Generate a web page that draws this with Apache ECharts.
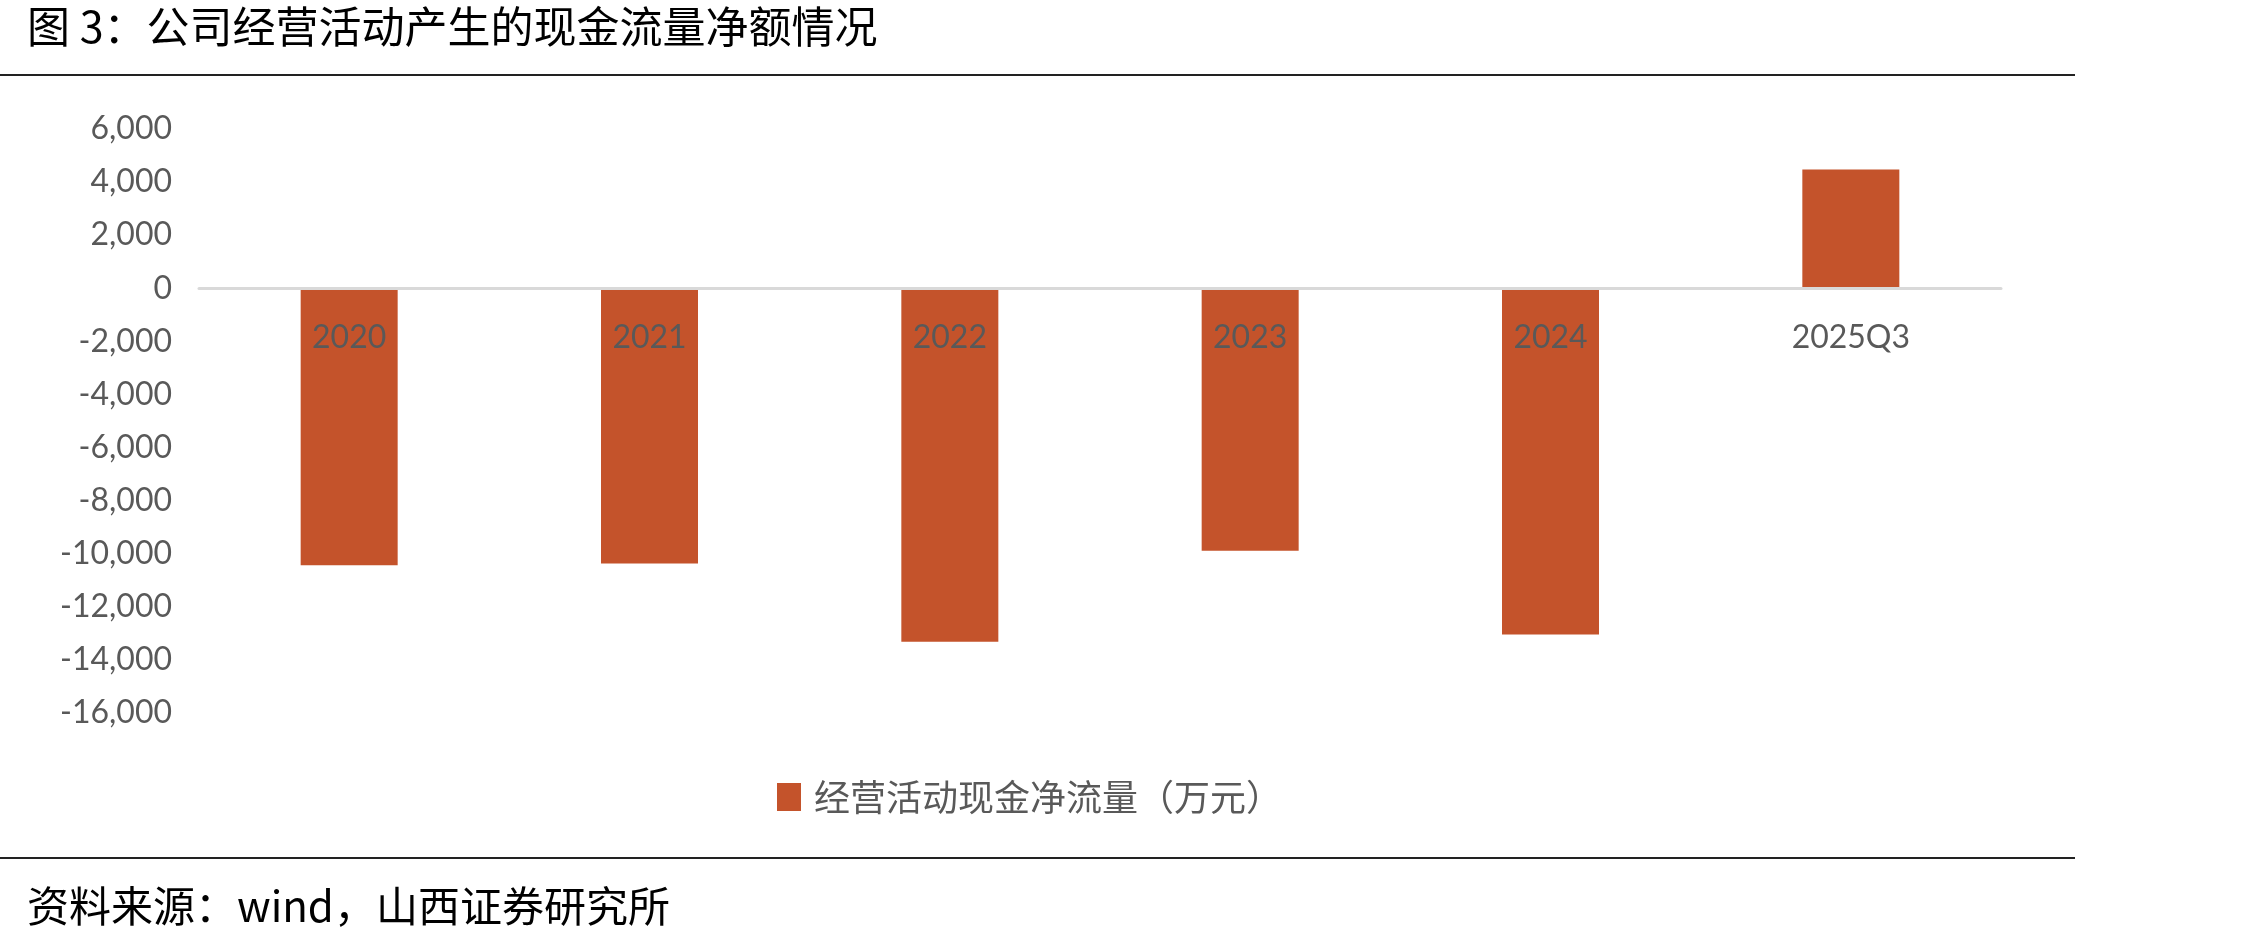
<!DOCTYPE html>
<html>
<head>
<meta charset="utf-8">
<script src="https://cdn.jsdelivr.net/npm/echarts@6/dist/echarts.min.js"></script>
<style>
  html, body { margin: 0; padding: 0; background: #fff; }
  #chart { width: 2255px; height: 943px; }
</style>
</head>
<body>
<div id="chart"></div>
<script>
// 经营活动现金净流量（万元）
const categories = ["2020", "2021", "2022", "2023", "2024", "2025Q3"];
const cashFlow = [-10430, -10370, -13320, -9890, -13040, 4470];
const seriesName = "经营活动现金净流量（万元）";

const chart = echarts.init(document.getElementById("chart"));

let option = {
  backgroundColor: "#fff",
  animation: false,
  title: [
    {
      text: "图 3：公司经营活动产生的现金流量净额情况",
      left: 22,
      top: 0,
      textStyle: {
        fontFamily: "Noto Sans CJK SC",
        fontWeight: "normal",
        fontSize: 43,
        color: "#000"
      }
    },
    {
      text: "资料来源：wind，山西证券研究所",
      left: 22,
      top: 880,
      textStyle: {
        fontFamily: "Noto Sans CJK SC",
        fontWeight: "normal",
        fontSize: 42,
        color: "#000"
      }
    }
  ],
  // 标题下方和来源上方的分隔线
  graphic: [
    { type: "rect", shape: { x: 0, y: 74, width: 2075, height: 2 }, style: { fill: "#222" } },
    { type: "rect", shape: { x: 0, y: 857, width: 2075, height: 2 }, style: { fill: "#222" } }
  ],
  legend: {
    left: 772,
    top: 774,
    itemWidth: 24,
    itemHeight: 28,
    icon: "rect",
    data: [seriesName],
    textStyle: {
      fontFamily: "Noto Sans CJK SC",
      fontSize: 36,
      color: "#595959",
      padding: [0, 0, 0, 8]
    }
  },
  grid: {
    left: 199,
    right: 254,
    top: 129,
    bottom: 230,
    containLabel: false
  },
  xAxis: {
    type: "category",
    data: categories,
    z: 10,
    offset: -425, // 轴线与标签放在 0 处
    axisLine: { onZero: false, lineStyle: { color: "#d9d9d9", width: 3 } },
    axisTick: { show: false },
    axisLabel: {
      margin: 34,
      fontFamily: "Lato",
      fontSize: 32,
      color: "#595959"
    }
  },
  yAxis: {
    type: "value",
    min: -16000,
    max: 6000,
    interval: 2000,
    axisLine: { show: false },
    axisTick: { show: false },
    splitLine: { show: false },
    axisLabel: {
      margin: 27,
      fontFamily: "Lato",
      fontSize: 32,
      color: "#595959",
      formatter: function(v) {
        return v.toLocaleString("en-US");
      }
    }
  },
  series: [
    {
      name: seriesName,
      type: "bar",
      data: cashFlow,
      barWidth: 97,
      itemStyle: { color: "#C4532B" }
    }
  ]
};

chart.setOption(option);
window.addEventListener("resize", () => {
  chart.resize();
});
</script>
</body>
</html>
